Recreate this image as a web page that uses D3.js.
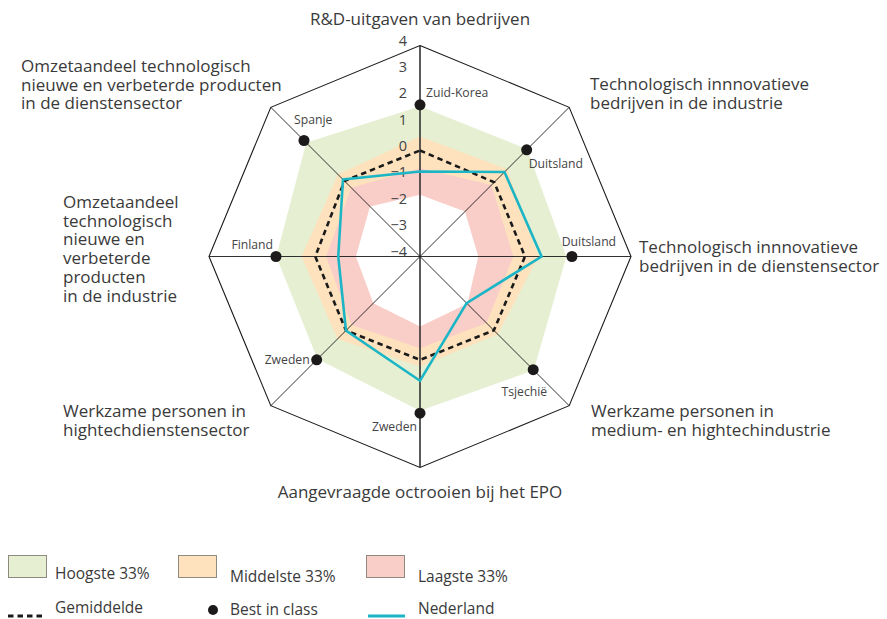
<!DOCTYPE html>
<html>
<head>
<meta charset="utf-8">
<script src="https://cdn.jsdelivr.net/npm/d3@7.9.0/dist/d3.min.js"></script>
<style>
  body { margin: 0; background: #fff; }
  svg { display: block; font-family: "Open Sans", "Noto Sans", sans-serif; }
</style>
</head>
<body>
<svg id="chart" width="887" height="619"></svg>
<script>
// axes, clockwise from the top
const axes = [
  'R&D-uitgaven van bedrijven',
  'Technologisch innnovatieve bedrijven in de industrie',
  'Technologisch innnovatieve bedrijven in de dienstensector',
  'Werkzame personen in medium- en hightechindustrie',
  'Aangevraagde octrooien bij het EPO',
  'Werkzame personen in hightechdienstensector',
  'Omzetaandeel technologisch nieuwe en verbeterde producten in de industrie',
  'Omzetaandeel technologisch nieuwe en verbeterde producten in de dienstensector'
];

const ticks = [4, 3, 2, 1, 0, -1, -2, -3, -4];

// band boundaries (standardised scores)
const hoogste = [1.7, 1.75, 1.55, 2.1, 1.85, 1.5, 1.45, 2.1];
const middelste = [0.55, 0.68, 0.49, 0.17, 0.17, 0.42, 0.49, 0.4];
const laagste = [-0.65, -0.17, -0.46, -0.43, -0.52, -0.33, -0.44, -0.32];
const laagsteMin = [-1.66, -1.59, -1.79, -1.46, -1.35, -1.5, -1.57, -1.32];

const gemiddelde = [0.02, -0.02, -0.02, -0.04, -0.08, -0.03, -0.03, 0.05];
const nederland = [-0.78, 0.53, 0.61, -1.5, 0.71, -0.03, -0.9, 0.13];
const bestInClass = [1.75, 1.72, 1.76, 2.07, 1.94, 1.54, 1.46, 2.22];
const bestCountries = ['Zuid-Korea', 'Duitsland', 'Duitsland', 'Tsjechië', 'Zweden', 'Zweden', 'Finland', 'Spanje'];

// axis titles, split in lines as in the original
const axisTitles = [
  ['R&D-uitgaven van bedrijven'],
  ['Technologisch innnovatieve', 'bedrijven in de industrie'],
  ['Technologisch innnovatieve', 'bedrijven in de dienstensector'],
  ['Werkzame personen in', 'medium- en hightechindustrie'],
  ['Aangevraagde octrooien bij het EPO'],
  ['Werkzame personen in', 'hightechdienstensector'],
  ['Omzetaandeel', 'technologisch', 'nieuwe en', 'verbeterde', 'producten', 'in de industrie'],
  ['Omzetaandeel technologisch', 'nieuwe en verbeterde producten', 'in de dienstensector']
];

const colors = {
  green: '#e6efd1',
  orange: '#fde2bd',
  red: '#f9cdc8',
  teal: '#1cb5c6',
  dot: '#1c1a1b',
  text: '#3a3a3a'
};

const svg = d3.select('#chart');
const cx = 420, cy = 256.5, R = 211;

const r = d3.scaleLinear().domain([-4, 4]).range([0, R]);
const angle = d3.scalePoint().domain(d3.range(axes.length + 1)).range([0, 2 * Math.PI]);

const g = svg.append('g').attr('transform', `translate(${cx},${cy})`);

const radial = d3.lineRadial()
  .angle((d, i) => angle(i))
  .radius((d) => r(d))
  .curve(d3.curveLinearClosed);

const px = (v, i) => r(v) * Math.sin(angle(i));
const py = (v, i) => -r(v) * Math.cos(angle(i));

// === bands ===
[[hoogste, colors.green], [middelste, colors.orange], [laagste, colors.red], [laagsteMin, '#fff']]
  .forEach(([vals, fill]) => {
    g.append('path').attr('d', radial(vals)).attr('fill', fill);
  });

// === outer octagon and spokes ===
g.append('path')
  .attr('d', radial(axes.map(() => 4)))
  .attr('fill', 'none')
  .attr('stroke', '#1a1a1a')
  .attr('stroke-width', 1.1);

g.selectAll('line.spoke')
  .data(axes)
  .join('line')
  .attr('class', 'spoke')
  .attr('x1', 0).attr('y1', 0)
  .attr('x2', (d, i) => px(4, i))
  .attr('y2', (d, i) => py(4, i))
  .attr('stroke', (d, i) => (i % 4 === 0 ? '#333' : '#1a1a1a'))
  .attr('stroke-width', (d, i) => (i % 4 === 0 ? 1.6 : 0.9));

// === tick labels on the top axis ===
g.selectAll('text.tick')
  .data(ticks)
  .join('text')
  .attr('class', 'tick')
  .attr('x', -13)
  .attr('y', (d) => -r(d))
  .attr('text-anchor', 'end')
  .attr('font-size', 14.5)
  .attr('fill', '#444')
  .text((d) => (d < 0 ? '\u2212' + Math.abs(d) : d));

// === average and Nederland ===
g.append('path')
  .attr('d', radial(gemiddelde))
  .attr('fill', 'none')
  .attr('stroke', '#1a1a1a')
  .attr('stroke-width', 2.6)
  .attr('stroke-dasharray', '5.5,4');

g.append('path')
  .attr('d', radial(nederland))
  .attr('fill', 'none')
  .attr('stroke', colors.teal)
  .attr('stroke-width', 2.6)
  .attr('stroke-linejoin', 'miter');

// === best in class ===
g.selectAll('circle.best')
  .data(bestInClass)
  .join('circle')
  .attr('class', 'best')
  .attr('cx', (d, i) => px(d, i))
  .attr('cy', (d, i) => py(d, i))
  .attr('r', 5.5)
  .attr('fill', colors.dot);

// country label offsets relative to the dot
const countryPos = [
  { dx: 6, dy: -8, anchor: 'start' },
  { dx: 2, dy: 18, anchor: 'start' },
  { dx: 17, dy: -11, anchor: 'middle' },
  { dx: 14, dy: 26, anchor: 'end' },
  { dx: -3, dy: 18, anchor: 'end' },
  { dx: -7, dy: 4, anchor: 'end' },
  { dx: -3, dy: -8, anchor: 'end' },
  { dx: -10, dy: -17, anchor: 'start' }
];

g.selectAll('text.country')
  .data(bestInClass)
  .join('text')
  .attr('class', 'country')
  .attr('x', (d, i) => px(d, i) + countryPos[i].dx)
  .attr('y', (d, i) => py(d, i) + countryPos[i].dy)
  .attr('text-anchor', (d, i) => countryPos[i].anchor)
  .attr('font-size', 12.2)
  .attr('fill', '#444')
  .text((d, i) => bestCountries[i]);

// === axis titles ===
const titlePos = [
  { x: 420, y: 25, anchor: 'middle' },
  { x: 590, y: 90, anchor: 'start' },
  { x: 639, y: 253, anchor: 'start' },
  { x: 591, y: 417, anchor: 'start' },
  { x: 420, y: 498, anchor: 'middle' },
  { x: 63, y: 417, anchor: 'start' },
  { x: 63, y: 208, anchor: 'start' },
  { x: 21, y: 72, anchor: 'start' }
];
const lineH = 18.7;

axisTitles.forEach((lines, i) => {
  const t = svg.append('text')
    .attr('x', titlePos[i].x)
    .attr('y', titlePos[i].y)
    .attr('text-anchor', titlePos[i].anchor)
    .attr('font-size', 17)
    .attr('fill', colors.text);
  lines.forEach((ln, j) => {
    t.append('tspan')
      .attr('x', titlePos[i].x)
      .attr('dy', j === 0 ? 0 : lineH)
      .text(ln);
  });
});

// === legend ===
const legendBands = [
  { label: 'Hoogste 33%', fill: colors.green, x: 8, tx: 55, ty: 579 },
  { label: 'Middelste 33%', fill: colors.orange, x: 178, tx: 230, ty: 582 },
  { label: 'Laagste 33%', fill: colors.red, x: 366, tx: 418, ty: 582 }
];

const leg = svg.append('g');
leg.selectAll('rect')
  .data(legendBands)
  .join('rect')
  .attr('x', (d) => d.x + 0.5)
  .attr('y', 555.5)
  .attr('width', 38)
  .attr('height', 22)
  .attr('fill', (d) => d.fill)
  .attr('stroke', '#8f8a80')
  .attr('stroke-width', 1);

leg.selectAll('text.band')
  .data(legendBands)
  .join('text')
  .attr('class', 'band')
  .attr('x', (d) => d.tx)
  .attr('y', (d) => d.ty)
  .attr('font-size', 15.5)
  .attr('fill', colors.text)
  .text((d) => d.label);

leg.append('line')
  .attr('x1', 8).attr('x2', 43)
  .attr('y1', 616).attr('y2', 616)
  .attr('stroke', '#1a1a1a')
  .attr('stroke-width', 3)
  .attr('stroke-dasharray', '5.5,4');
leg.append('text')
  .attr('x', 55).attr('y', 613)
  .attr('font-size', 15.5).attr('fill', colors.text)
  .text('Gemiddelde');

leg.append('circle')
  .attr('cx', 213).attr('cy', 610).attr('r', 5)
  .attr('fill', colors.dot);
leg.append('text')
  .attr('x', 230).attr('y', 615)
  .attr('font-size', 15.5).attr('fill', colors.text)
  .text('Best in class');

leg.append('line')
  .attr('x1', 368).attr('x2', 405)
  .attr('y1', 616).attr('y2', 616)
  .attr('stroke', colors.teal)
  .attr('stroke-width', 3);
leg.append('text')
  .attr('x', 418).attr('y', 614)
  .attr('font-size', 15.5).attr('fill', colors.text)
  .text('Nederland');
</script>
</body>
</html>
